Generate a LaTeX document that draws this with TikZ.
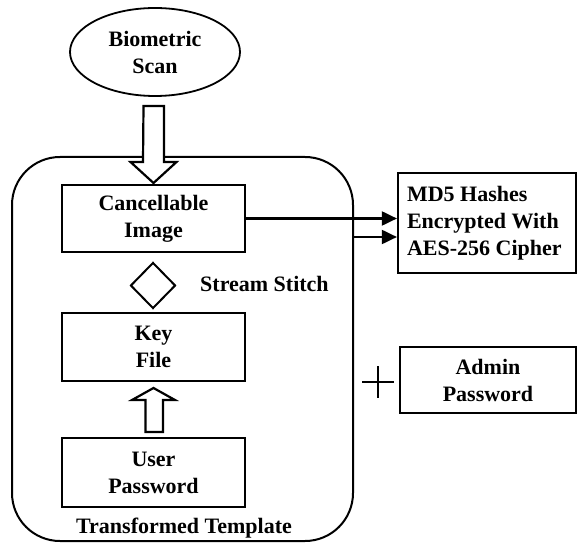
\documentclass[tikz,border=0pt]{standalone}
\usepackage{fontspec}
\setmainfont{Liberation Serif}
\usetikzlibrary{shapes.geometric,arrows.meta,positioning,calc}
\begin{document}
\begin{tikzpicture}[x=1pt,y=-1pt,
  every node/.style={font=\fontsize{22}{27}\selectfont\bfseries},
  boxnode/.style={draw,line width=2.2pt,rectangle,inner sep=0pt,align=center},
  hollow/.style={draw,line width=2.2pt,fill=white,line join=miter},
  conn/.style={line width=2pt,-{Triangle[length=15pt,width=14pt]}}]
\useasboundingbox (0,0) rectangle (580,545);
% transformed template container
\draw[line width=2pt,rounded corners=48pt] (12,157) rectangle (353,541);
\node[inner sep=0pt,anchor=center] (tt) at (184,528) {Transformed Template};
% ellipse
\node[draw,ellipse,line width=1.8pt,minimum width=170pt,minimum height=88pt,inner sep=0pt,align=center] (bio) at (155,52) {Biometric\\Scan};
% boxes
\node[boxnode,minimum width=183pt,minimum height=67pt] (cimg) at (153.5,218.5) {Cancellable\\Image};
\node[boxnode,minimum width=183pt,minimum height=68pt] (key) at (153.5,347) {Key\\File};
\node[boxnode,minimum width=183pt,minimum height=69pt] (user) at (153.5,472.5) {User\\Password};
\node[boxnode,minimum height=100pt,align=flush left,text width=160pt,inner xsep=9pt] (md5) at (487,223) {MD5 Hashes\\Encrypted With\\AES-256 Cipher};
\node[boxnode,minimum width=176pt,minimum height=66pt] (admin) at (488,380) {Admin\\Password};
% diamond
\node[draw,diamond,line width=2pt,minimum width=45pt,minimum height=46pt,inner sep=0pt] (dia) at (153,285.5) {};
\node[anchor=west,inner sep=0pt] (ss) at (200,284) {Stream Stitch};
% plus
\coordinate (plus) at (378,382);
\draw[line width=2pt] ($(plus)+(-16,0)$) -- ($(plus)+(16,0)$) ($(plus)+(0,-16)$) -- ($(plus)+(0,16)$);
% hollow arrow down from biometric scan
\draw[hollow] (143.5,106) -- (164,106) -- (164,162) -- (176.5,162) -- (153.5,183) -- (130.5,162) -- (143,162) -- cycle;
% hollow arrow up from user password to key file
\draw[hollow] (145.5,432) -- (163,432) -- (163,400) -- (175,400) -- (153.5,388) -- (132,400) -- (145.5,400) -- cycle;
% connectors
\draw[conn] (cimg.east) -- (cimg.east -| md5.west);
\coordinate (tplr) at (353,237);
\draw[conn] (tplr) -- (tplr -| md5.west);
\end{tikzpicture}
\end{document}
